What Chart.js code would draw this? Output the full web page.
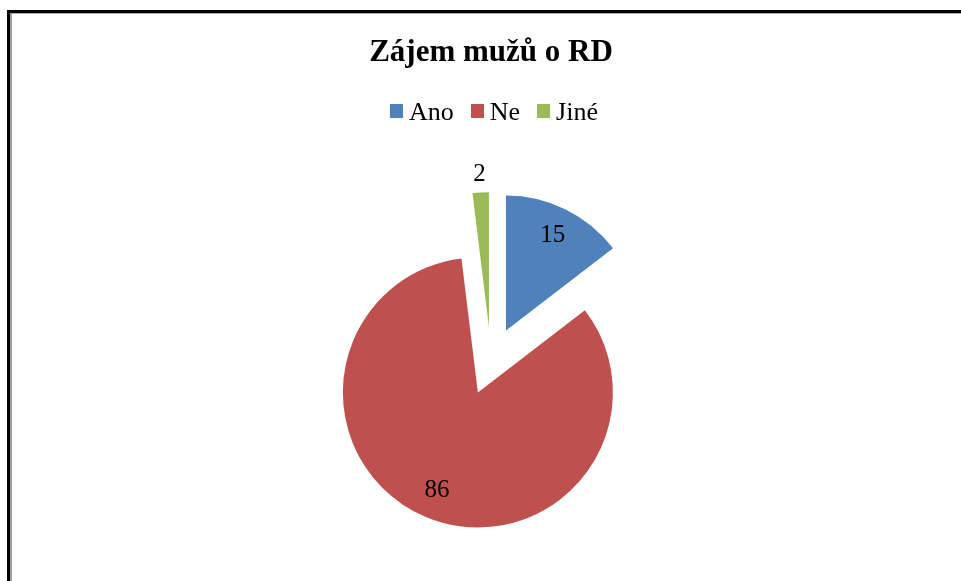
<!DOCTYPE html>
<html><head><meta charset="utf-8">
<script src="https://cdn.jsdelivr.net/npm/chart.js@4.4.1/dist/chart.umd.min.js"></script>
<style>
html,body{margin:0;padding:0;background:#fff;width:961px;height:581px;overflow:hidden;}
#frame{position:absolute;left:7px;top:10px;width:1000px;height:700px;border-left:3px solid #000;border-top:3px solid #000;}
#frame2{position:absolute;left:0;top:0;right:0;bottom:0;border-left:2px solid #a0a0a0;border-top:1px solid #a8a8a8;}
#wrap{position:absolute;left:0;top:0;width:961px;height:581px;}
#legend{position:absolute;left:390px;top:97px;display:flex;font-family:'Liberation Serif';font-size:26px;line-height:30px;color:#000;white-space:nowrap;}
.item{display:flex;align-items:flex-start;margin-right:17px;}
.box{width:13px;height:14px;margin-top:7px;margin-right:6px;}
</style></head>
<body>
<div id="frame"><div id="frame2"></div></div>
<div id="wrap"><canvas id="c" width="961" height="581"></canvas></div>
<div id="legend"></div>
<script>
const categories = ['Ano', 'Ne', 'Jiné'];
const values = [15, 86, 2];
const colors = ['#4F81BD', '#C0504D', '#9BBB59'];
const chartTitle = 'Zájem mužů o RD';

// HTML legend built from the arrays
const lg = document.getElementById('legend');
categories.forEach((c, i) => {
  const it = document.createElement('div'); it.className = 'item';
  const b = document.createElement('span'); b.className = 'box'; b.style.background = colors[i];
  const t = document.createElement('span'); t.textContent = c;
  it.appendChild(b); it.appendChild(t); lg.appendChild(it);
});

const explodePlugin = {
  id: 'explode',
  afterDatasetsUpdate(chart, args, opts) {
    const meta = chart.getDatasetMeta(0);
    meta.data.forEach(arc => {
      const mid = (arc.startAngle + arc.endAngle) / 2;
      arc.x += Math.cos(mid) * opts.distance;
      arc.y += Math.sin(mid) * opts.distance;
    });
  }
};

const labelPlugin = {
  id: 'sliceLabels',
  afterDatasetsDraw(chart) {
    const ctx = chart.ctx;
    const meta = chart.getDatasetMeta(0);
    const total = values.reduce((a, b) => a + b, 0);
    ctx.save();
    ctx.font = '25px "Liberation Serif"';
    ctx.fillStyle = '#000';
    ctx.textAlign = 'center';
    ctx.textBaseline = 'middle';
    meta.data.forEach((arc, i) => {
      const mid = (arc.startAngle + arc.endAngle) / 2;
      const small = values[i] / total < 0.05;
      const r = small ? arc.outerRadius + 18 : arc.outerRadius * 0.785;
      ctx.fillText(String(values[i]), arc.x + Math.cos(mid) * r, arc.y + Math.sin(mid) * r);
    });
    ctx.restore();
  }
};

new Chart(document.getElementById('c'), {
  type: 'pie',
  data: {
    labels: categories,
    datasets: [{
      data: values,
      backgroundColor: colors,
      borderWidth: 0,
      radius: 135
    }]
  },
  options: {
    responsive: false,
    animation: false,
    events: [],
    layout: { padding: { left: 21, right: 0, top: 0, bottom: 0 } },
    plugins: {
      legend: { display: false },
      tooltip: { enabled: false },
      title: {
        display: true,
        text: chartTitle,
        color: '#000',
        font: { family: 'Liberation Serif', size: 31, weight: 'bold' },
        padding: { top: 34, bottom: 70 }
      },
      explode: { distance: 34 }
    }
  },
  plugins: [explodePlugin, labelPlugin]
});
</script>
</body></html>
